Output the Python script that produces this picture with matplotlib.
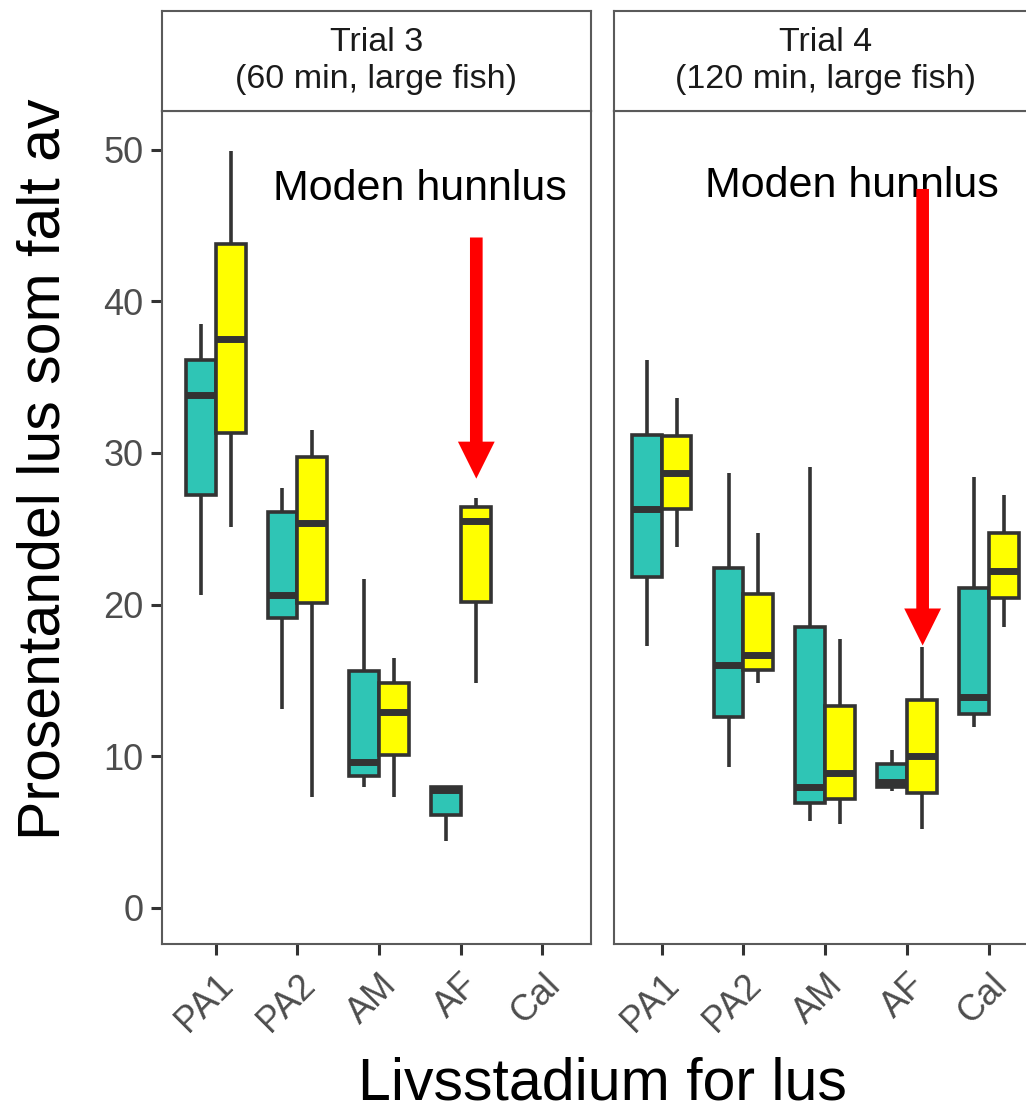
import matplotlib
matplotlib.use('Agg')
import matplotlib.pyplot as plt
import numpy as np
from matplotlib.patches import FancyArrow

plt.rcParams['font.family'] = ['Liberation Sans', 'DejaVu Sans']

nan = np.nan
stages = ['PA1', 'PA2', 'AM', 'AF', 'Cal']
panel_titles = ['Trial 3\n(60 min, large fish)', 'Trial 4\n(120 min, large fish)']
yticks = [0, 10, 20, 30, 40, 50]
x_title = 'Livsstadium for lus'
y_title = 'Prosentandel lus som falt av'
note_text = 'Moden hunnlus'

# Trial 3 - teal group: lower whisker, Q1, median, Q3, upper whisker
t3_teal_lo = [20.6, 13.1, 8.0, 4.4, nan]
t3_teal_q1 = [27.2, 19.1, 8.7, 6.1, nan]
t3_teal_med = [33.8, 20.6, 9.6, 7.8, nan]
t3_teal_q3 = [36.1, 26.1, 15.6, 8.0, nan]
t3_teal_hi = [38.5, 27.7, 21.7, 8.0, nan]
# Trial 3 - yellow group
t3_yel_lo = [25.1, 7.3, 7.3, 14.8, nan]
t3_yel_q1 = [31.3, 20.1, 10.1, 20.2, nan]
t3_yel_med = [37.5, 25.4, 12.9, 25.5, nan]
t3_yel_q3 = [43.8, 29.7, 14.8, 26.4, nan]
t3_yel_hi = [49.9, 31.5, 16.5, 27.0, nan]
# Trial 4 - teal group
t4_teal_lo = [17.3, 9.3, 5.7, 7.7, 11.9]
t4_teal_q1 = [21.8, 12.6, 6.9, 8.0, 12.8]
t4_teal_med = [26.3, 16.0, 8.0, 8.3, 13.9]
t4_teal_q3 = [31.2, 22.4, 18.5, 9.5, 21.1]
t4_teal_hi = [36.1, 28.7, 29.1, 10.4, 28.4]
# Trial 4 - yellow group
t4_yel_lo = [23.8, 14.8, 5.5, 5.2, 18.5]
t4_yel_q1 = [26.3, 15.7, 7.2, 7.6, 20.4]
t4_yel_med = [28.7, 16.7, 8.9, 10.0, 22.2]
t4_yel_q3 = [31.1, 20.7, 13.3, 13.7, 24.7]
t4_yel_hi = [33.6, 24.7, 17.7, 17.2, 27.2]

# annotation arrows (x position, top, tip) in data units, one per panel
arrow_x = [4.19, 4.19]
arrow_top = [44.2, 47.4]
arrow_tip = [28.3, 17.3]
note_x = [3.50, 3.33]
note_y = [46.7, 46.9]

teal = '#2FC5B5'
yellow = '#FFFF00'
edge = '#333333'
border = '#5A5A5A'
tickcol = '#333333'
labcol = '#4D4D4D'

panels = [
    [(t3_teal_lo, t3_teal_q1, t3_teal_med, t3_teal_q3, t3_teal_hi),
     (t3_yel_lo, t3_yel_q1, t3_yel_med, t3_yel_q3, t3_yel_hi)],
    [(t4_teal_lo, t4_teal_q1, t4_teal_med, t4_teal_q3, t4_teal_hi),
     (t4_yel_lo, t4_yel_q1, t4_yel_med, t4_yel_q3, t4_yel_hi)],
]
group_colors = [teal, yellow]
offsets = [-0.1825, 0.1825]
bw = 0.365

W, H = 1026, 1113
fig = plt.figure(figsize=(W / 100, H / 100), dpi=100)

panel_left = [161.7, 614]
panel_w = [429.3, 424.0]
panel_xlim = [(0.339, 5.594), (0.418, 5.6)]
p_top, p_bot = 111, 944
s_top = 11

for pi in range(2):
    ax = fig.add_axes([panel_left[pi] / W, (H - p_bot) / H, panel_w[pi] / W, (p_bot - p_top) / H])
    for gi, grp in enumerate(panels[pi]):
        lo, q1, med, q3, hi = grp
        stats, pos = [], []
        for i in range(len(stages)):
            if np.isnan(med[i]):
                continue
            stats.append(dict(whislo=lo[i], q1=q1[i], med=med[i], q3=q3[i], whishi=hi[i], fliers=[]))
            pos.append(i + 1 + offsets[gi])
        ax.bxp(stats, positions=pos, widths=bw, showcaps=False, showfliers=False,
               patch_artist=True,
               boxprops=dict(facecolor=group_colors[gi], edgecolor=edge, linewidth=2.6),
               whiskerprops=dict(color=edge, linewidth=2.6, solid_capstyle='butt'),
               medianprops=dict(color=edge, linewidth=5.0, solid_capstyle='butt'),
               manage_ticks=False)
    ax.set_xlim(*panel_xlim[pi])
    ax.set_ylim(-2.38, 52.54)
    ax.set_xticks(range(1, len(stages) + 1))
    ax.set_xticklabels(stages, rotation=45, ha='right', va='top', rotation_mode='anchor',
                       color=labcol, fontsize=26)
    ax.tick_params(axis='x', length=8, width=2.2, color=tickcol, pad=9)
    if pi == 0:
        ax.set_yticks(yticks)
        ax.set_yticklabels([str(v) for v in yticks], color=labcol, fontsize=26)
        ax.tick_params(axis='y', length=8, width=2.2, color=tickcol, pad=5)
    else:
        ax.set_yticks([])
    for sp in ax.spines.values():
        sp.set_color(border)
        sp.set_linewidth(1.5)
    # arrow
    ax.add_patch(FancyArrow(arrow_x[pi], arrow_top[pi], 0, arrow_tip[pi] - arrow_top[pi],
                            width=0.155, head_width=0.45, head_length=2.44,
                            length_includes_head=True, color='#FF0000', linewidth=0, zorder=5))
    ax.text(note_x[pi], note_y[pi], note_text, ha='center', va='baseline', fontsize=31, color='black')

    # strip
    sax = fig.add_axes([panel_left[pi] / W, (H - p_top) / H, panel_w[pi] / W, (p_top - s_top) / H])
    sax.set_xticks([])
    sax.set_yticks([])
    sax.set_facecolor('white')
    for sp in sax.spines.values():
        sp.set_color(border)
        sp.set_linewidth(1.5)
    sax.text(0.5, 0.5, panel_titles[pi], ha='center', va='center', fontsize=24.5,
             color='#1A1A1A', linespacing=1.22, transform=sax.transAxes)

fig.text(602 / W, 1 - 1099 / H, x_title, ha='center', va='baseline', fontsize=42.5, color='black')
fig.text(60 / W, 1 - 469 / H, y_title, ha='center', va='baseline', rotation=90,
         rotation_mode='anchor', fontsize=42.5, color='black')

fig.savefig('out.png', dpi=100, facecolor='white')
